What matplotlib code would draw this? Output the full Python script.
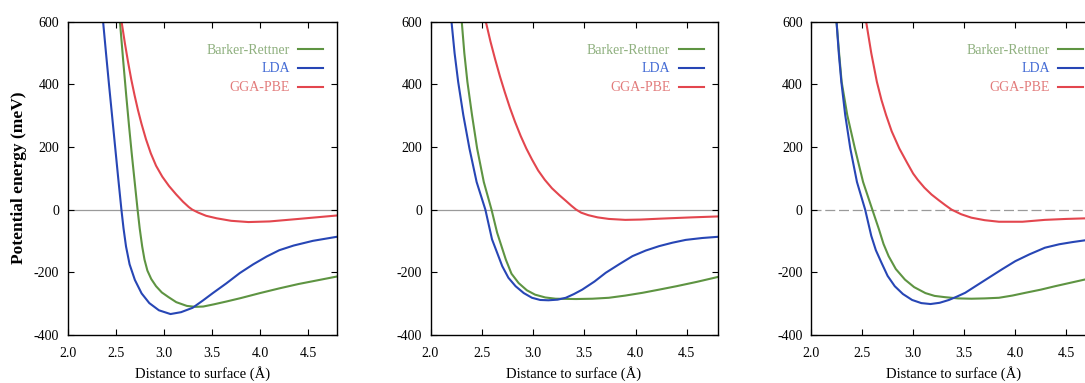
import matplotlib
matplotlib.use("Agg")
import matplotlib.pyplot as plt
import numpy as np

plt.rcParams['font.family'] = ['Liberation Serif', 'DejaVu Serif']
plt.rcParams['axes.unicode_minus'] = False

labels = ["Barker-Rettner", "LDA", "GGA-PBE"]
line_colors = ["#5e9442", "#2746b5", "#e3464e"]
text_colors = ["#8fb07f", "#4169d4", "#e27b7b"]

xticks = [2.0, 2.5, 3.0, 3.5, 4.0, 4.5]
yticks = [-400, -200, 0, 200, 400, 600]

# panel 1
p1_br_x = [2.545, 2.578, 2.610, 2.640, 2.667, 2.692, 2.711, 2.728, 2.750, 2.776, 2.80, 2.83,
           2.87, 2.92, 2.98, 3.05, 3.13, 3.24, 3.33, 3.41, 3.52, 3.65, 3.80, 4.00, 4.20,
           4.40, 4.60, 4.80]
p1_br_y = [600, 478, 365, 265, 180, 106, 50, 0, -60, -118, -160, -195,
           -222, -245, -265, -280, -296, -308, -311, -310, -303, -294, -283, -267, -252,
           -238, -226, -214]
p1_lda_x = [2.370, 2.400, 2.431, 2.463, 2.495, 2.527, 2.560, 2.582, 2.608, 2.645, 2.70, 2.77,
            2.85, 2.95, 3.07, 3.18, 3.30, 3.41, 3.51, 3.65, 3.79, 3.93, 4.07, 4.20, 4.35, 4.55, 4.80]
p1_lda_y = [600, 500, 400, 300, 200, 100, 0, -60, -118, -175, -225, -268,
            -299, -322, -334, -328, -314, -290, -267, -236, -203, -175, -150, -130, -115, -100, -87]
p1_pbe_x = [2.562, 2.597, 2.630, 2.663, 2.697, 2.732, 2.768, 2.815, 2.865, 2.92, 2.985, 3.055,
            3.13, 3.20, 3.26, 3.295, 3.36, 3.44, 3.55, 3.70, 3.88, 4.10, 4.40, 4.80]
p1_pbe_y = [600, 530, 470, 415, 365, 318, 275, 225, 180, 140, 105, 75,
            48, 25, 8, 0, -10, -20, -28, -36, -40, -38, -30, -19]

# panel 2
p2_br_x = [2.305, 2.33, 2.36, 2.405, 2.455, 2.52, 2.595, 2.65, 2.735, 2.79, 2.86, 2.94, 3.02,
           3.12, 3.22, 3.42, 3.58, 3.74, 3.90, 4.07, 4.23, 4.40, 4.60, 4.81]
p2_br_y = [600, 500, 408, 302, 195, 88, 0, -74, -160, -205, -235, -258, -272,
           -281, -285, -286, -285, -282, -275, -266, -256, -245, -231, -215]
p2_lda_x = [2.205, 2.235, 2.27, 2.32, 2.38, 2.45, 2.535, 2.60, 2.70, 2.76, 2.83, 2.91, 2.99,
            3.07, 3.15, 3.24, 3.32, 3.40, 3.48, 3.60, 3.71, 3.84, 3.97, 4.10, 4.23, 4.36,
            4.49, 4.65, 4.81]
p2_lda_y = [600, 500, 408, 302, 195, 88, 0, -95, -181, -218, -245, -267, -282,
            -289, -290, -288, -282, -270, -256, -230, -202, -175, -149, -131, -117, -106,
            -97, -91, -87]
p2_pbe_x = [2.54, 2.585, 2.63, 2.678, 2.725, 2.775, 2.825, 2.88, 2.935, 2.99, 3.05, 3.115,
            3.185, 3.26, 3.32, 3.375, 3.42, 3.47, 3.54, 3.63, 3.74, 3.90, 4.05, 4.25, 4.55, 4.81]
p2_pbe_y = [600, 537, 481, 425, 375, 325, 280, 235, 195, 160, 125, 95,
            68, 45, 28, 12, 0, -10, -18, -25, -30, -33, -32, -29, -25, -22]

# panel 3
p3_br_x = [2.25, 2.275, 2.30, 2.355, 2.43, 2.51, 2.60, 2.665, 2.71, 2.76, 2.83, 2.92, 3.01,
           3.12, 3.21, 3.31, 3.44, 3.57, 3.70, 3.84, 3.97, 4.10, 4.25, 4.39, 4.54, 4.69, 4.80]
p3_br_y = [600, 500, 408, 302, 195, 88, 0, -63, -110, -149, -190, -224, -248,
           -267, -276, -280, -284, -285, -284, -282, -275, -266, -256, -245, -234, -223, -215]
p3_lda_x = [2.25, 2.272, 2.297, 2.335, 2.385, 2.45, 2.53, 2.59, 2.635, 2.69, 2.75, 2.82, 2.90,
            2.99, 3.08, 3.17, 3.26, 3.35, 3.43, 3.51, 3.62, 3.74, 3.87, 4.00, 4.14, 4.29,
            4.43, 4.56, 4.69, 4.80]
p3_lda_y = [600, 500, 408, 302, 195, 88, 0, -84, -130, -170, -212, -245, -270,
            -289, -299, -302, -298, -289, -278, -266, -243, -218, -191, -165, -143, -122,
            -111, -104, -98, -94]
p3_pbe_x = [2.54, 2.59, 2.645, 2.69, 2.735, 2.79, 2.865, 2.94, 3.0, 3.045, 3.11, 3.18,
            3.25, 3.315, 3.375, 3.47, 3.57, 3.70, 3.84, 4.07, 4.29, 4.50, 4.80]
p3_pbe_y = [600, 500, 408, 350, 302, 250, 195, 150, 115, 95, 70, 48,
            30, 14, 0, -15, -26, -34, -39, -39, -33, -30, -27]

panels = [
    [(p1_br_x, p1_br_y), (p1_lda_x, p1_lda_y), (p1_pbe_x, p1_pbe_y)],
    [(p2_br_x, p2_br_y), (p2_lda_x, p2_lda_y), (p2_pbe_x, p2_pbe_y)],
    [(p3_br_x, p3_br_y), (p3_lda_x, p3_lda_y), (p3_pbe_x, p3_pbe_y)],
]
zero_styles = ["-", "-", (0, (8, 3))]

W, H = 1085, 383
fig = plt.figure(figsize=(W / 100, H / 100), dpi=100)
boxes = [(67.5, 269.5), (430.5, 287), (811, 286)]
bottom, top = 334.7, 21.8

for k, (left, width) in enumerate(boxes):
    ax = fig.add_axes([left / W, 1 - bottom / H, width / W, (bottom - top) / H])
    ax.axhline(0, color="#9a9a9a", lw=0.9, ls=zero_styles[k], zorder=1)
    for (x, y), lab, c in zip(panels[k], labels, line_colors):
        ax.plot(x, y, color=c, lw=1.5, label=lab, zorder=2)
    ax.set_xlim(2.0, 4.8)
    ax.set_ylim(-400, 600)
    ax.set_xticks(xticks)
    ax.set_yticks(yticks)
    ax.set_xticklabels(["%.1f" % v for v in xticks])
    ax.tick_params(direction="in", top=True, right=True, length=4, width=0.8,
                   labelsize=10, pad=6)
    ax.tick_params(axis="x", pad=9)
    for s in ax.spines.values():
        s.set_linewidth(1.0)
    ax.set_xlabel("Distance to surface (Å)", fontsize=10.5, labelpad=4)
    if k == 0:
        ax.set_ylabel("Potential energy (meV)", fontsize=12.5, fontweight="bold", labelpad=5)
    ax.legend(loc="upper right", bbox_to_anchor=(1.0, 0.975), frameon=False,
              markerfirst=False, fontsize=10, handlelength=1.8, handletextpad=0.6,
              labelspacing=0.43, borderaxespad=0.6, labelcolor=text_colors)

fig.savefig("out.png", dpi=100)
